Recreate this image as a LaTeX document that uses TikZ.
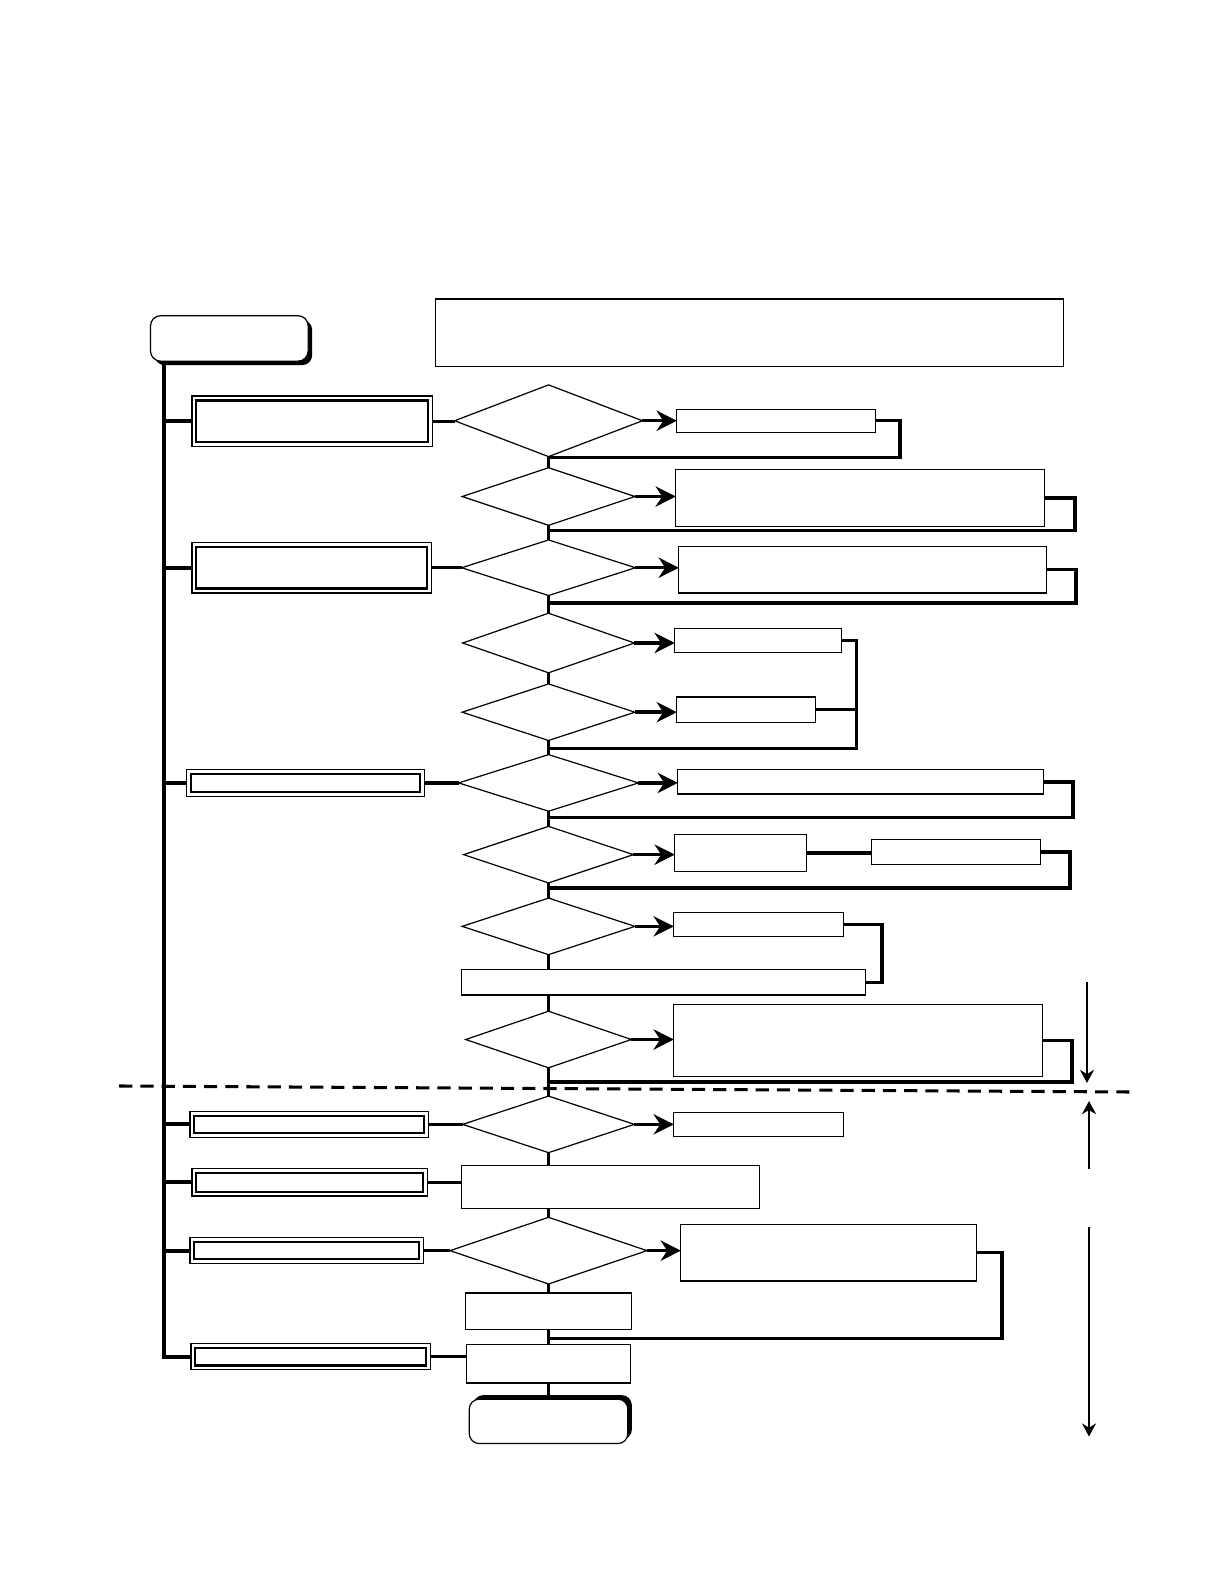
\documentclass[tikz,border=0pt]{standalone}
\usepackage{tikz}
\usetikzlibrary{shapes.geometric, arrows.meta, positioning, calc, shadows}
\tikzset{
  sz/.style 2 args={minimum width=#1*0.5pt, minimum height=#2*0.5pt},
  line/.style={draw=black, line width=1.7pt},
  spine/.style={draw=black, line width=2pt},
  arrow/.style={draw=black, line width=1.7pt, -{Stealth[length=10pt, width=10pt]}},
  marker/.style={draw=black, line width=0.6pt, -{Stealth[length=6.5pt, width=7pt]}},
  cut/.style={draw=black, line width=1.5pt, dash pattern=on 6.5pt off 4pt},
  stepbox/.style={draw=black, fill=white, rectangle, line width=0.6pt, inner sep=0pt, outer sep=0pt},
  decide/.style={draw=black, fill=white, diamond, line width=0.6pt, inner sep=0pt, outer sep=0pt},
  dblbox/.style={draw=black, fill=white, rectangle, line width=0.6pt, inner sep=0pt, outer sep=0pt,
    path picture={\draw[line width=1.1pt] ([shift={(2.2pt,-2.2pt)}]path picture bounding box.north west)
      rectangle ([shift={(-2.2pt,2.2pt)}]path picture bounding box.south east);}},
  term/.style={draw=black, fill=white, rectangle, rounded corners=5pt, line width=0.6pt, inner sep=0pt, outer sep=0pt},
  shadow down/.style={drop shadow={shadow xshift=2pt, shadow yshift=-2pt, fill=black, opacity=1}},
  shadow up/.style={drop shadow={shadow xshift=2pt, shadow yshift=2pt, fill=black, opacity=1}}
}

\begin{document}
\begin{tikzpicture}[x=0.5pt, y=-0.5pt]
  \useasboundingbox (0,0) rectangle (1212,1568);

  % terminals and note
  \node [term, shadow down, sz={156}{45}] (start) at (227,335) {};
  \node [term, shadow up, sz={157}{44}] (stop) at (543,1407) {};
  \node [stepbox, sz={622}{67}] (note) at (742,329.5) {};

  % tasks on the left
  \node [dblbox, sz={238}{50}] (l1) at (309,417) {};
  \node [dblbox, sz={237}{50}] (l2) at (308.5,562) {};
  \node [dblbox, sz={235}{27}] (l3) at (302.5,775) {};
  \node [dblbox, sz={236}{26}] (l4) at (306,1113) {};
  \node [dblbox, sz={233}{27}] (l5) at (306.5,1170.5) {};
  \node [dblbox, sz={231}{26}] (l6) at (303.5,1238) {};
  \node [dblbox, sz={237}{26}] (l7) at (307.5,1343) {};

  % main column
  \node [decide, sz={186}{71}] (d1) at (543,416.5) {};
  \node [decide, sz={171}{57}] (d2) at (543,491.5) {};
  \node [decide, sz={172}{55}] (d3) at (543,562) {};
  \node [decide, sz={170}{59}] (d4) at (543,636.5) {};
  \node [decide, sz={171}{56}] (d5) at (543,705) {};
  \node [decide, sz={178}{56}] (d6) at (543,775) {};
  \node [decide, sz={168}{56}] (d7) at (543,846) {};
  \node [decide, sz={171}{56}] (d8) at (543,917) {};
  \node [stepbox, sz={400}{25}] (p1) at (657,972.5) {};
  \node [decide, sz={164}{56}] (d9) at (543,1029) {};
  \node [decide, sz={170}{56}] (d10) at (543,1113) {};
  \node [stepbox, sz={295}{42}] (p2) at (604.5,1175) {};
  \node [decide, sz={195}{66}] (d11) at (543,1238) {};
  \node [stepbox, sz={164}{36}] (p3) at (543,1298) {};
  \node [stepbox, sz={163}{38}] (p4) at (543,1350) {};

  % outcomes on the right
  \node [stepbox, sz={197}{23}] (r1) at (768.5,416.5) {};
  \node [stepbox, sz={365}{56}] (r2) at (851.5,493) {};
  \node [stepbox, sz={364}{46}] (r3) at (854,564) {};
  \node [stepbox, sz={165}{24}] (r4) at (750.5,634) {};
  \node [stepbox, sz={137}{25}] (r5) at (738.5,702.5) {};
  \node [stepbox, sz={362}{24}] (r6) at (852,774) {};
  \node [stepbox, sz={130}{37}] (r7) at (733,844.5) {};
  \node [stepbox, sz={167}{25}] (r8) at (946.5,843.5) {};
  \node [stepbox, sz={168}{24}] (r9) at (751,915) {};
  \node [stepbox, sz={365}{72}] (r10) at (849.5,1030) {};
  \node [stepbox, sz={168}{24}] (r11) at (751,1113) {};
  \node [stepbox, sz={293}{56}] (r12) at (820.5,1240) {};

  % joints on the main column
  \coordinate (j1) at (543,453);
  \coordinate (j2) at (543,525);
  \coordinate (j3) at (543,597);
  \coordinate (j4) at (543,741);
  \coordinate (j5) at (543,809);
  \coordinate (j6) at (543,879);
  \coordinate (j7) at (543,1071);
  \coordinate (j8) at (543,1325);

  % main column links
  \foreach \a/\b in {d1/d2, d2/d3, d3/d4, d4/d5, d5/d6, d6/d7, d7/d8, d8/p1, p1/d9, d9/d10, d10/p2, p2/d11, d11/p3, p3/p4, p4/stop}
    \draw [line] (\a.south -| d1.south) -- (\b.north -| d1.south);

  % spine
  \coordinate (spinetop) at ($(start.south west)+(13,0)$);
  \draw [spine] (spinetop) -- (spinetop |- l7.west) -- (l7.west);
  \foreach \n in {l1, l2, l3, l4, l5, l6}
    \draw [spine] (spinetop |- \n.west) -- (\n.west);

  % tasks into the column
  \draw [line] (l1.east) -- (l1.east -| d1.west);
  \draw [line] (l2.east) -- (d3.west);
  \draw [line] (l3.east) -- (d6.west);
  \draw [line] (l4.east) -- (d10.west);
  \draw [line] (l5.east) -- (l5.east -| p2.west);
  \draw [line] (l6.east) -- (d11.west);
  \draw [line] (l7.east) -- (l7.east -| p4.west);

  % decisions out to the right
  \draw [arrow] (d1.east) -- (d1.east -| r1.west);
  \draw [arrow] (d2.east) -- (d2.east -| r2.west);
  \draw [arrow] (d3.east) -- (d3.east -| r3.west);
  \draw [arrow] (d4.east) -- (d4.east -| r4.west);
  \draw [arrow] (d5.east) -- (d5.east -| r5.west);
  \draw [arrow] (d6.east) -- (d6.east -| r6.west);
  \draw [arrow] (d7.east) -- (d7.east -| r7.west);
  \draw [arrow] (d8.east) -- (d8.east -| r9.west);
  \draw [arrow] (d9.east) -- (d9.east -| r10.west);
  \draw [arrow] (d10.east) -- (d10.east -| r11.west);
  \draw [arrow] (d11.east) -- (d11.east -| r12.west);

  % returns
  \draw [line] (r1.east) -- ++(24,0) |- (j1);
  \draw [line] (r2.east) -- ++(30,0) |- (j2);
  \draw [line] (r3.east) -- ++(29,0) |- (j3);
  \coordinate (k4) at ($(r4.east)+(15,0)$);
  \draw [line] (r4.east) -- (k4) |- (j4);
  \draw [line] (r5.east) -- (r5.east -| k4);
  \draw [line] (r6.east) -- ++(29,0) |- (j5);
  \draw [line] (r7.east) -- (r7.east -| r8.west);
  \draw [line] (r8.east) -- ++(29,0) |- (j6);
  \draw [line] (r9.east) -- ++(38,0) |- (p1.east);
  \draw [line] (r10.east) -- ++(29,0) |- (j7);
  \draw [line] (r12.east) -- ++(25,0) |- (j8);

  % cut line and side markers
  \coordinate (cutl) at (118,1075);
  \coordinate (cutr) at (1124,1081);
  \draw [cut] (cutl) -- (cutr);
  \coordinate (m1a) at (1076,972);
  \coordinate (m1b) at (1076,1072);
  \coordinate (m2a) at (1078,1157);
  \coordinate (m2b) at (1078,1090);
  \coordinate (m3a) at (1078,1215);
  \coordinate (m3b) at (1078,1422);
  \draw [marker] (m1a) -- (m1b);
  \draw [marker] (m2a) -- (m2b);
  \draw [marker] (m3a) -- (m3b);
\end{tikzpicture}
\end{document}
